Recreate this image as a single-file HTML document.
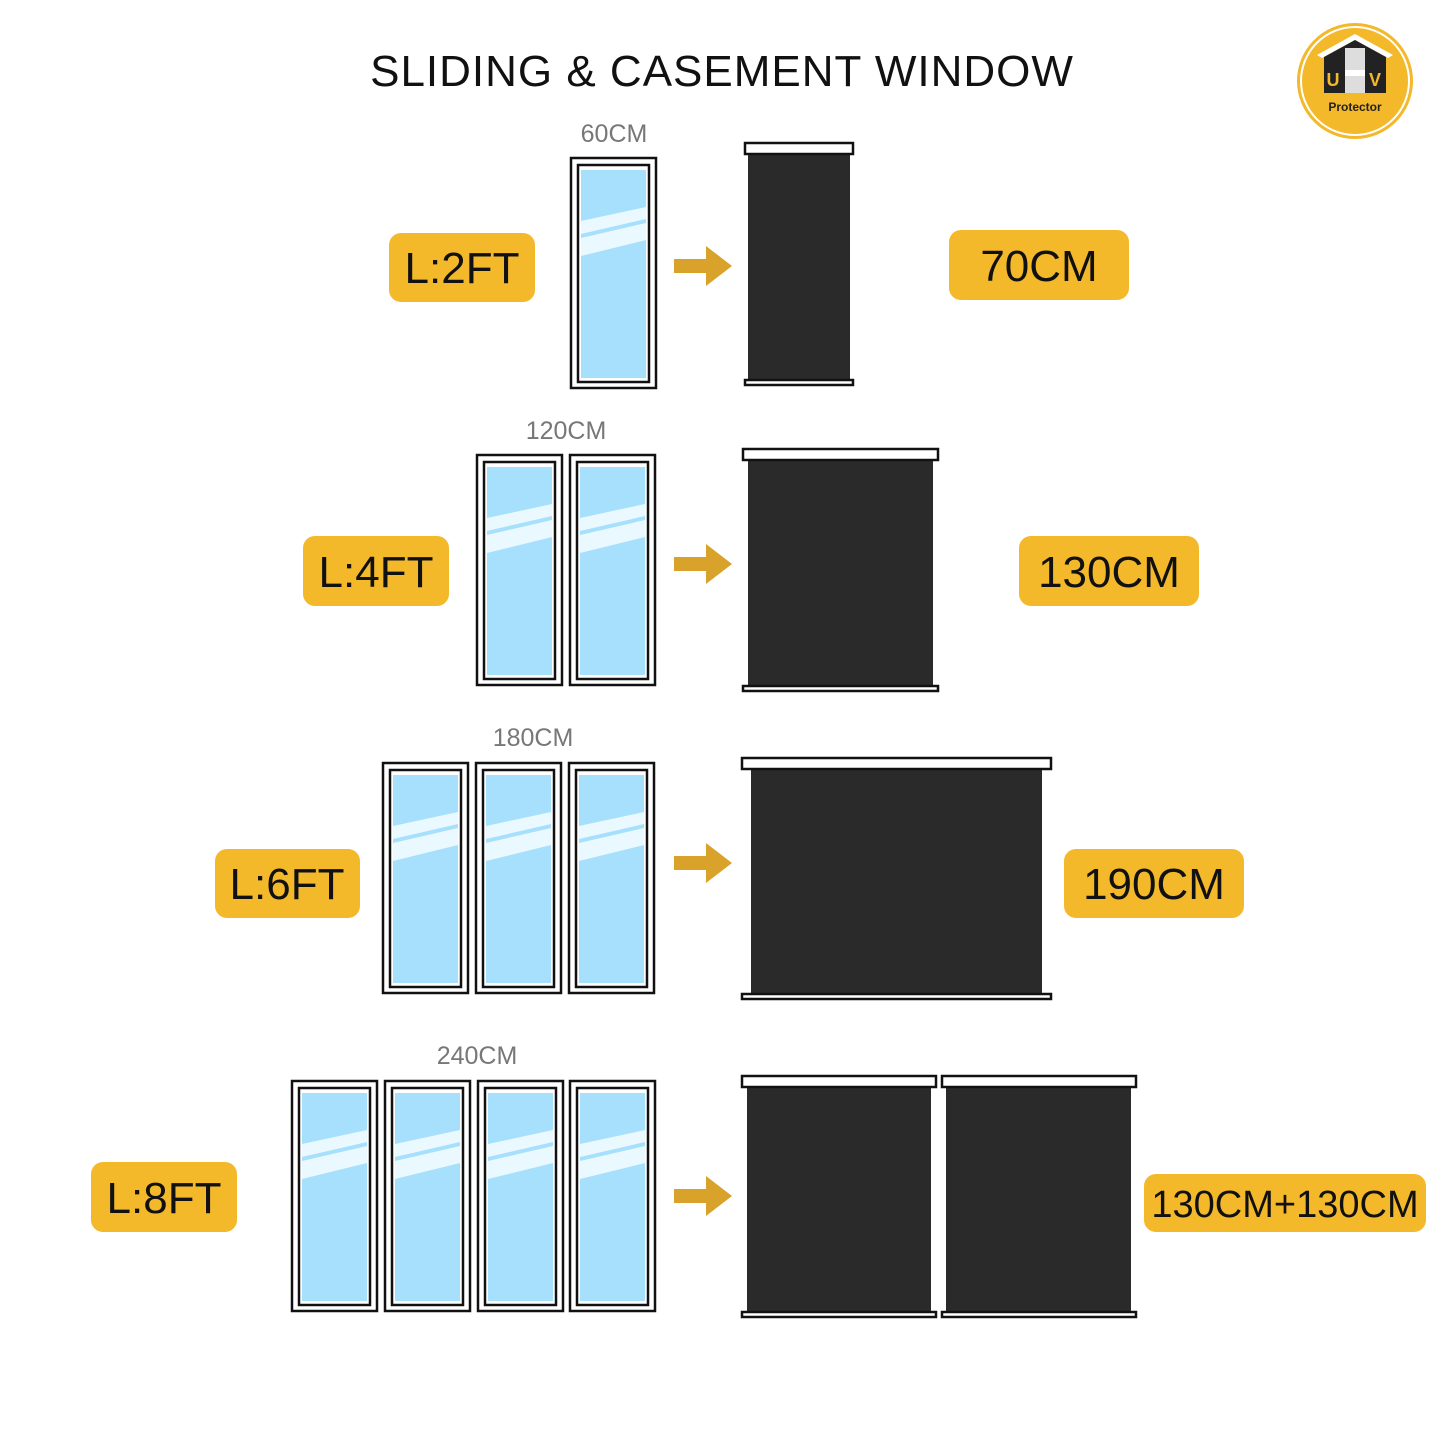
<!DOCTYPE html>
<html><head><meta charset="utf-8"><style>
body{margin:0;background:#fff}
svg{display:block}
text{font-family:"Liberation Sans",sans-serif}
</style></head><body>
<svg id="s" width="1445" height="1445" viewBox="0 0 1445 1445" xmlns="http://www.w3.org/2000/svg">
<rect width="1445" height="1445" fill="#fff"/>
<text x="722" y="86" text-anchor="middle" font-size="44" fill="#111" letter-spacing="1">SLIDING &amp; CASEMENT WINDOW</text>
<g fill="#777" font-size="25" text-anchor="middle">
<text x="614" y="142">60CM</text>
<text x="566" y="439">120CM</text>
<text x="533" y="746">180CM</text>
<text x="477" y="1064">240CM</text>
</g>
<g fill="#f4b92b">
<rect x="389" y="233" width="146" height="69" rx="12"/>
<rect x="949" y="230" width="180" height="70" rx="12"/>
<rect x="303" y="536" width="146" height="70" rx="12"/>
<rect x="1019" y="536" width="180" height="70" rx="12"/>
<rect x="215" y="849" width="145" height="69" rx="12"/>
<rect x="1064" y="849" width="180" height="69" rx="12"/>
<rect x="91" y="1162" width="146" height="70" rx="12"/>
<rect x="1144" y="1174" width="282" height="58" rx="12"/>
</g>
<g fill="#111" font-size="44" text-anchor="middle">
<text x="462" y="283">L:2FT</text>
<text x="1039" y="281">70CM</text>
<text x="376" y="587">L:4FT</text>
<text x="1109" y="587">130CM</text>
<text x="287" y="899">L:6FT</text>
<text x="1154" y="899">190CM</text>
<text x="164" y="1213">L:8FT</text>
<text x="1285" y="1217" font-size="38">130CM+130CM</text>
</g>
<g id="win"></g>
<g id="bl"></g>
<g fill="#d9a22a">
<path d="M674 259h32v-13l26 20-26 20v-13h-32z"/>
<path d="M674 557h32v-13l26 20-26 20v-13h-32z"/>
<path d="M674 856h32v-13l26 20-26 20v-13h-32z"/>
<path d="M674 1189h32v-13l26 20-26 20v-13h-32z"/>
</g>
<g>
<circle cx="1355" cy="81" r="60" fill="#fff"/>
<circle cx="1355" cy="81" r="58" fill="#f4b92b"/>
<circle cx="1355" cy="81" r="54" fill="none" stroke="#fff" stroke-width="2"/>
<path d="M1317 55 L1355 34 L1393 55 L1388 58 L1355 40 L1322 58Z" fill="#fff"/>
<path d="M1324 57 L1355 40 L1386 57 V93 H1324Z" fill="#222"/>
<rect x="1345" y="48" width="20" height="45" fill="#ddd"/>
<rect x="1345" y="70" width="20" height="6" fill="#fff"/>
<text x="1333" y="86" font-size="18" font-weight="bold" fill="#f4b92b" font-family="Liberation Serif,serif" text-anchor="middle">U</text>
<text x="1375" y="86" font-size="18" font-weight="bold" fill="#f4b92b" font-family="Liberation Serif,serif" text-anchor="middle">V</text>
<text x="1355" y="111" font-size="12" font-weight="bold" fill="#222" font-family="Liberation Serif,serif" text-anchor="middle">Protector</text>
</g>
</svg>
<script>
var NS="http://www.w3.org/2000/svg";
function r(p,x,y,w,h,a){var e=document.createElementNS(NS,"rect");e.setAttribute("x",x);e.setAttribute("y",y);e.setAttribute("width",w);e.setAttribute("height",h);for(var k in a)e.setAttribute(k,a[k]);p.appendChild(e);}
function pth(p,d,f){var e=document.createElementNS(NS,"path");e.setAttribute("d",d);e.setAttribute("fill",f);p.appendChild(e);}
var W=document.getElementById("win");
function pane(x,y){var w=87,h=232;
r(W,x+1,y+1,w-2,h-2,{fill:"#fff",stroke:"#111","stroke-width":2.5});
r(W,x+8,y+8,w-16,h-15,{fill:"#fff",stroke:"#111","stroke-width":2.5});
var gx=x+11,gy=y+13,gw=w-22,gh=h-24;
r(W,gx,gy,gw,gh,{fill:"#a6e0fc"});
pth(W,"M"+gx+" "+(gy+51)+"L"+(gx+gw)+" "+(gy+37)+"V"+(gy+49)+"L"+gx+" "+(gy+64)+"Z","#eaf9ff");
pth(W,"M"+gx+" "+(gy+68)+"L"+(gx+gw)+" "+(gy+53)+"V"+(gy+70)+"L"+gx+" "+(gy+86)+"Z","#eaf9ff");}
pane(570,157);
[476,569].forEach(function(x){pane(x,454)});
[382,475,568].forEach(function(x){pane(x,762)});
[291,384,477,569].forEach(function(x){pane(x,1080)});
var B=document.getElementById("bl");
function blind(x1,x2,ty,by,ix1,ix2){
r(B,ix1,ty+12,ix2-ix1,by-ty-12,{fill:"#2a2a2a"});
r(B,x1+1,ty+1,x2-x1-2,11,{fill:"#fff",stroke:"#111","stroke-width":2.5});
r(B,x1+1,by,x2-x1-2,5,{fill:"#fff",stroke:"#111","stroke-width":2.5});}
blind(744,854,142,380,748,850);
blind(742,939,448,686,748,933);
blind(741,1052,757,994,751,1042);
blind(741,937,1075,1312,747,931);
blind(941,1137,1075,1312,946,1131);
</script>
</body></html>
